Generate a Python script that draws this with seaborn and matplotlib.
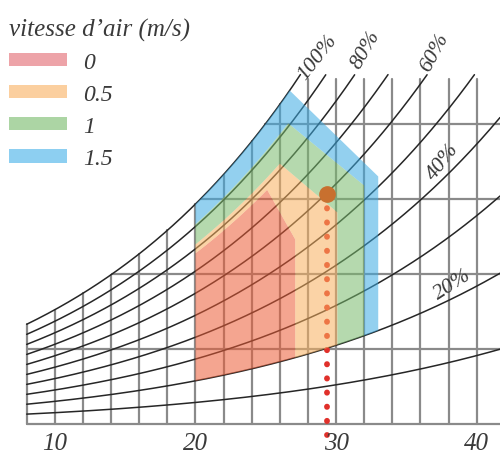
import numpy as np
import pandas as pd
import matplotlib
matplotlib.use("Agg")
import matplotlib.pyplot as plt
import seaborn as sns
from matplotlib.path import Path
from matplotlib.patches import PathPatch, Patch

# relative humidity curves drawn on the chart
rh_levels = [0.1, 0.2, 0.3, 0.4, 0.5, 0.6, 0.7, 0.8, 0.9, 1.0]
rh_labels = ["100%", "80%", "60%", "40%", "20%"]

# grid: dry bulb temperature (C) and humidity ratio (g/kg)
grid_temps = [8, 10, 12, 14, 16, 18, 20, 22, 24, 26, 28, 30, 32, 34, 36, 38, 40]
grid_humidity = [5, 10, 15, 20]
chart_t_min = 8
chart_t_max = 41.66
chart_w_top = 23.0
tick_values = [10, 20, 30, 40]

# comfort zones per air speed (m/s)
zone_labels = ["0", "0.5", "1", "1.5"]
zone_t_left = 20
zone_rh_bottom = 0.2
zone_rh_top = [0.78, 0.82, 0.91, 1.0]
zone_t_peak = [25.1, 26.0, 26.6, 26.7]
zone_t_right = [27.1, 30.1, 32.0, 33.0]
zone_w_corner = [12.3, 14.1, 15.9, 16.5]

# measured point
point_t = 29.36
point_w = 15.33


def sat_pressure(t):
    return 0.61094 * np.exp(17.625 * t / (t + 243.04))


def hum_ratio(t, rh):
    p = rh * sat_pressure(np.asarray(t, dtype=float))
    return 622.0 * p / (101.325 - p)


def zone_polygon(i):
    t_up = np.linspace(zone_t_left, zone_t_peak[i], 60)
    top = np.column_stack([t_up, hum_ratio(t_up, zone_rh_top[i])])
    t_dn = np.linspace(zone_t_right[i], zone_t_left, 60)
    bottom = np.column_stack([t_dn, hum_ratio(t_dn, zone_rh_bottom)])
    corner = np.array([[zone_t_right[i], zone_w_corner[i]]])
    return np.vstack([top, corner, bottom])


def ring_path(outer, inner=None):
    verts = [outer, outer[:1]]
    codes = [Path.MOVETO] + [Path.LINETO] * (len(outer) - 1) + [Path.CLOSEPOLY]
    if inner is not None:
        inner = inner[::-1]
        verts += [inner, inner[:1]]
        codes += [Path.MOVETO] + [Path.LINETO] * (len(inner) - 1) + [Path.CLOSEPOLY]
    return Path(np.vstack(verts), codes)


sns.set_theme(style="white")
serif = {"family": "Liberation Serif", "style": "italic"}
plt.rcParams["font.family"] = ["Liberation Serif", "DejaVu Serif"]

fig = plt.figure(figsize=(5, 4.56), dpi=100)
ax = fig.add_axes([0, 0, 1, 1])
ax.set_xlim(6.10, 41.66)
ax.set_ylim(-2.067, 28.33)
ax.axis("off")

grid_kw = dict(color="#8a8a8a", lw=1.6, zorder=1)
# vertical temperature lines, clipped by saturation curve and chart top
for t in grid_temps:
    ax.plot([t, t], [0, min(hum_ratio(t, 1.0), chart_w_top)], **grid_kw)
# horizontal humidity lines, starting at saturation curve
t_fine = np.linspace(chart_t_min, chart_t_max, 2000)
w_sat = hum_ratio(t_fine, 1.0)
for w in grid_humidity:
    t0 = np.interp(w, w_sat, t_fine)
    ax.plot([t0, chart_t_max], [w, w], **grid_kw)
ax.plot([chart_t_min, chart_t_max], [0, 0], **grid_kw)

# RH curves
rows = []
for rh in rh_levels:
    w = hum_ratio(t_fine, rh)
    keep = w <= 23.3
    rows.append(pd.DataFrame({"T": t_fine[keep], "w": w[keep], "rh": rh}))
curves = pd.concat(rows, ignore_index=True)
sns.lineplot(data=curves, x="T", y="w", units="rh", estimator=None,
             color="#262626", lw=1.1, legend=False, ax=ax, zorder=2)

# dotted drop line from the point to the temperature axis
drop, = ax.plot([point_t, point_t], [point_w, -0.75], color="#e0302a", lw=4.2,
                zorder=3)
drop.set_linestyle((0, (0.05, 2.38)))
drop.set_dash_capstyle("round")

# comfort zones as non-overlapping bands
zone_colors = ["#eb5b35", "#f8af5d", "#78ba6c", "#3baae2"]
polys = [zone_polygon(i) for i in range(len(zone_labels))]
for i in range(len(polys)):
    inner = polys[i - 1] if i > 0 else None
    ax.add_patch(PathPatch(ring_path(polys[i], inner), facecolor=zone_colors[i],
                           edgecolor="none", alpha=0.55, zorder=4))

ax.plot([point_t], [point_w], "o", color="#c8702f", ms=11, zorder=5)

# curve labels
label_pos = [(28.72, 24.47, 52), (32.13, 25.0, 60), (37.04, 24.8, 62),
             (37.6, 17.53, 52), (38.32, 9.33, 33)]
for txt, (x, y, rot) in zip(rh_labels, label_pos):
    ax.text(x, y, txt, rotation=rot, ha="center", va="center",
            fontsize=16, color="#3a3a3a", fontdict=serif, zorder=6)

# temperature tick labels
for v in tick_values:
    ax.text(v, -1.3, str(v), ha="center", va="center", fontsize=18,
            color="#3a3a3a", fontdict=serif)

# legend
legend_colors = ["#eda3a8", "#fbcf9f", "#acd5a4", "#8dcff1"]
handles = [Patch(facecolor=c, edgecolor="none", label=l)
           for c, l in zip(legend_colors, zone_labels)]
leg = ax.legend(handles=handles, title="vitesse d\u2019air (m/s)", loc="upper left",
                bbox_to_anchor=(0.018, 0.959), frameon=False, alignment="left",
                prop={"family": "Liberation Serif", "style": "italic", "size": 17},
                title_fontproperties={"family": "Liberation Serif", "style": "italic", "size": 18},
                handlelength=2.46, handleheight=0.5, handletextpad=0.68,
                labelspacing=0.47, borderpad=0, borderaxespad=0)
for t in leg.get_texts():
    t.set_color("#3a3a3a")
leg.get_title().set_color("#3a3a3a")

fig.savefig("out.png", dpi=100, facecolor="white")
